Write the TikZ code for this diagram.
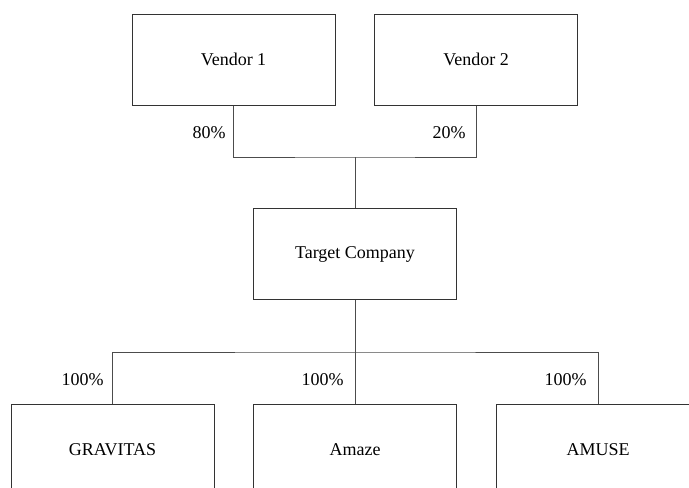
\documentclass[tikz,border=0pt]{standalone}
\usepackage{fontspec}
\setmainfont{Liberation Serif}
\usepackage{tikz}

\begin{document}
\begin{tikzpicture}[x=0.5pt,y=-0.5pt]
\tikzstyle{entity}=[draw=black!80,line width=0.5pt,shape=rectangle,minimum width=101.5pt,minimum height=45.5pt,inner sep=0pt,font=\fontsize{9}{11}\selectfont]
\tikzstyle{share}=[anchor=east,inner sep=0pt,font=\fontsize{9}{11}\selectfont]
\clip (0,0) rectangle (689,487);
\path (233.5,59.5) node[entity] (v1) {Vendor 1};
\path (476,59.5) node[entity] (v2) {Vendor 2};
\path (355,254) node[entity] (tc) {Target Company};
\path (112.5,449.5) node[entity] (s1) {GRAVITAS};
\path (355,449.5) node[entity] (s2) {Amaze};
\path (598,449.5) node[entity] (s3) {AMUSE};
\coordinate (up) at (355,157);
\coordinate (down) at (355,352);
\draw[black!70,line width=0.5pt]
(v1.south) |- (up) -| (v2.south)
(up) -- (tc.north)
(tc.south) -- (down)
(s1.north) |- (down) -| (s3.north)
(down) -- (s2.north);
\path (226,133) node[share] (p1) {80\%};
\path (466,133) node[share] (p2) {20\%};
\path (104,380) node[share] (p3) {100\%};
\path (344,380) node[share] (p4) {100\%};
\path (587,380) node[share] (p5) {100\%};
\end{tikzpicture}
\end{document}
